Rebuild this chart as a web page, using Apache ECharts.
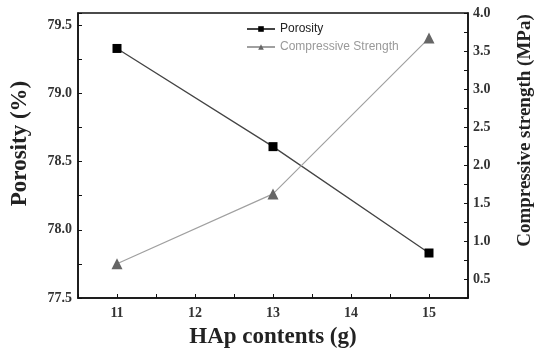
<!DOCTYPE html>
<html>
<head>
    <meta charset="utf-8">
    <title>Porosity and compressive strength</title>
    <script src="https://cdn.jsdelivr.net/npm/echarts@6/dist/echarts.min.js"></script>
</head>
<body style="margin:0; background:#fff;">
    <div id="main" style="width:536px;height:354px;"></div>
    <script>
        // data
        var hapContents = [11, 13, 15];
        var porosity = [79.33, 78.61, 77.83];
        var strength = [0.70, 1.62, 3.67];
        var seriesNames = ['Porosity', 'Compressive Strength'];

        var serif = 'Liberation Serif';
        function pairs(xs, ys) {
            return xs.map(function (x, i) { return [x, ys[i]]; });
        }
        function half(v) { return Math.abs(v * 2 - Math.round(v * 2)) < 1e-6; }

        var myChart = echarts.init(document.getElementById('main'));
        var option = {
            animation: false,
            grid: {
                left: 78, right: 68, top: 13, bottom: 56,
                outerBoundsMode: 'none', containLabel: false,
                show: true, borderColor: '#111', borderWidth: 1.5
            },
            legend: {
                left: 241, top: 18, orient: 'vertical', itemGap: 6,
                itemWidth: 28, itemHeight: 7,
                textStyle: { fontFamily: 'Liberation Sans', fontSize: 12 },
                data: [
                    { name: seriesNames[0], textStyle: { color: '#222' } },
                    { name: seriesNames[1], textStyle: { color: '#999' } }
                ]
            },
            xAxis: {
                type: 'value', min: 10.5, max: 15.5, interval: 0.5,
                name: 'HAp contents (g)', nameLocation: 'middle', nameGap: 28,
                nameTextStyle: { fontFamily: serif, fontWeight: 'bold', fontSize: 23, color: '#222' },
                axisLine: { lineStyle: { color: '#111', width: 1.5 } },
                axisTick: { inside: true, length: 4, lineStyle: { color: '#111' } },
                axisLabel: {
                    fontFamily: serif, fontWeight: 'bold', fontSize: 14, color: '#333', margin: 8,
                    formatter: function (v) { return Number.isInteger(v) && v >= 11 && v <= 15 ? v : ''; }
                },
                splitLine: { show: false }
            },
            yAxis: [{
                type: 'value', min: 77.5, max: 79.59, interval: 0.25,
                name: 'Porosity (%)', nameLocation: 'middle', nameGap: 46,
                nameTextStyle: {
                    fontFamily: serif, fontWeight: 'bold', fontSize: 23, color: '#222',
                    padding: [0, 0, 0, 24]
                },
                axisLine: { show: true, lineStyle: { color: '#111', width: 1.5 } },
                axisTick: { show: true, inside: true, length: 4, lineStyle: { color: '#111' } },
                axisLabel: {
                    fontFamily: serif, fontWeight: 'bold', fontSize: 14, color: '#333', margin: 6,
                    formatter: function (v) { return half(v) && v <= 79.5 ? v.toFixed(1) : ''; }
                },
                splitLine: { show: false }
            }, {
                type: 'value', min: 0.25, max: 4.0, interval: 0.25, position: 'right',
                name: 'Compressive strength (MPa)', nameLocation: 'middle', nameGap: 48,
                nameTextStyle: {
                    fontFamily: serif, fontWeight: 'bold', fontSize: 19, color: '#222',
                    padding: [0, 0, 0, 50]
                },
                axisLine: { show: true, lineStyle: { color: '#111', width: 1.5 } },
                axisTick: { show: true, inside: true, length: 4, lineStyle: { color: '#111' } },
                axisLabel: {
                    fontFamily: serif, fontWeight: 'bold', fontSize: 14, color: '#333', margin: 5,
                    formatter: function (v) { return half(v) && v >= 0.5 ? v.toFixed(1) : ''; }
                },
                splitLine: { show: false }
            }],
            series: [{
                name: seriesNames[0], type: 'line', yAxisIndex: 0,
                data: pairs(hapContents, porosity),
                symbol: 'rect', symbolSize: 9,
                itemStyle: { color: '#000' },
                lineStyle: { color: '#444', width: 1.3 }
            }, {
                name: seriesNames[1], type: 'line', yAxisIndex: 1,
                data: pairs(hapContents, strength),
                symbol: 'triangle', symbolSize: 11,
                itemStyle: { color: '#666' },
                lineStyle: { color: '#a0a0a0', width: 1.2 }
            }]
        };
        myChart.setOption(option);
    </script>
</body>
</html>
